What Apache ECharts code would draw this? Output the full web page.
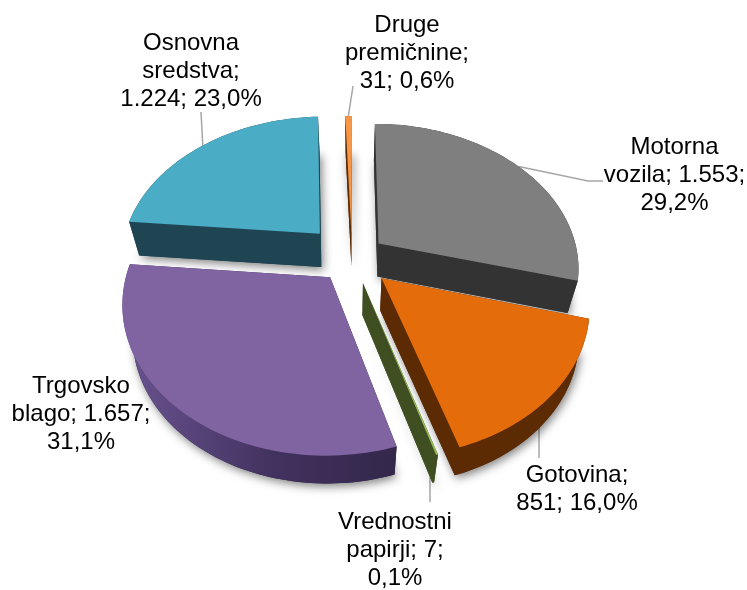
<!DOCTYPE html>
<html>
<head>
<meta charset="utf-8">
<style>html,body{margin:0;padding:0;background:#fff}#c{width:747px;height:590px}</style>
<script src="https://cdn.jsdelivr.net/npm/echarts@6/dist/echarts.min.js"></script>
</head>
<body>
<div id="c"></div>
<script>
// Data (clockwise from 12 o'clock)
const categories = ['Motorna vozila', 'Gotovina', 'Vrednostni papirji', 'Trgovsko blago', 'Osnovna sredstva', 'Druge premičnine'];
const values = [1553, 851, 7, 1657, 1224, 31];
const labelLines = [
  ['Motorna', 'vozila; {v};', '{p}'],
  ['Gotovina;', '{v}; {p}'],
  ['Vrednostni', 'papirji; {v};', '{p}'],
  ['Trgovsko', 'blago; {v};', '{p}'],
  ['Osnovna', 'sredstva;', '{v}; {p}'],
  ['Druge', 'premičnine;', '{v}; {p}']
];
// Styles
const topColors = ['#7f7f7f', '#e46c0a', '#9bbb59', '#8064a2', '#4bacc6', '#f79646'];
const sideColors = ['#333333', '#5c2a03', '#3f4f22', '#33274a', '#1f4553', '#5c2a03'];
const explosions = [0.17, 0.2, 0.18, 0.17, 0.24, 0.18];
const paintOrder = [5, 4, 0, 3, 2, 1];
const labelCenters = [[674.5, 133], [577, 461], [395, 508], [81, 372], [191, 29], [407, 11]];
const leaderEnds = [[[588, 181], [603, 181]], [[539, 425], [539, 458]], [[430, 478], [430, 502]], null, [[201, 112]], [[353, 86]]];

const FONT = '"Liberation Sans", Arial, sans-serif';
const FONT_SIZE = 24, LINE_H = 28;
const CX = 352, CY = 258, RX = 200, RY = 143, PERSP = 0.16;
const DEPTH = 32.7, DEPTH_SLOPE = 0.0248, INWARD = 0.045;
const total = values.reduce((a, b) => a + b, 0);

function project(u, v) {
  const s = 1 / (1 - PERSP * v);
  return [CX + RX * u * s, CY + RY * v * s];
}
function drop(p) {
  return [p[0] - (p[0] - CX) * INWARD, p[1] + DEPTH - DEPTH_SLOPE * (p[1] - CY)];
}
function fmtThousands(n) { return String(n).replace(/\B(?=(\d{3})+(?!\d))/g, '.'); }
function fmtPct(n) { return (n / total * 100).toFixed(1).replace('.', ',') + '%'; }

const chart = echarts.init(document.getElementById('c'), null, { renderer: 'canvas' });

function renderItem(params, api) {
  const i = params.dataIndex;
  const val = api.value(0);
  let before = 0;
  for (let k = 0; k < i; k++) before += values[k];
  const a0 = before / total * Math.PI * 2;
  const a1 = (before + val) / total * Math.PI * 2;
  const mid = (a0 + a1) / 2;
  const ex = Math.sin(mid) * explosions[i], ey = -Math.cos(mid) * explosions[i];
  const at = a => project(ex + Math.sin(a), ey - Math.cos(a));
  const apex = project(ex, ey);
  const rim = [];
  const n = Math.max(2, Math.ceil((a1 - a0) / (Math.PI / 120)));
  for (let k = 0; k <= n; k++) rim.push(at(a0 + (a1 - a0) * k / n));
  const top = [apex].concat(rim);
  const bottom = top.map(drop);
  const rimBottom = rim.map(drop);
  const z = paintOrder.indexOf(i) * 10 + 10;
  const side = sideColors[i];
  const rimFill = i === 3
    ? new echarts.graphic.LinearGradient(0, 0, 1, 0, [
        { offset: 0, color: '#6a5390' }, { offset: 0.55, color: '#42325f' }, { offset: 1, color: '#33274a' }])
    : side;
  const children = [
    { type: 'polygon', z2: z, silent: true, shape: { points: bottom },
      style: { fill: side, shadowBlur: 10, shadowColor: 'rgba(0,0,0,0.5)', shadowOffsetX: 2, shadowOffsetY: 3 } },
    { type: 'polygon', z2: z + 1, silent: true, shape: { points: [apex, rim[0], rimBottom[0], drop(apex)] }, style: { fill: side } },
    { type: 'polygon', z2: z + 1, silent: true, shape: { points: [apex, rim[n], rimBottom[n], drop(apex)] }, style: { fill: side } },
    { type: 'polygon', z2: z + 2, silent: true, shape: { points: rim.concat(rimBottom.slice().reverse()) }, style: { fill: rimFill } },
    { type: 'polygon', z2: z + 3, silent: true, shape: { points: top }, style: { fill: topColors[i] } }
  ];
  // leader line sits under the slices, from the rim at mid-angle
  if (leaderEnds[i]) {
    children.push({
      type: 'polyline', z2: 1, silent: true,
      shape: { points: [at(mid)].concat(leaderEnds[i]) },
      style: { stroke: '#a6a6a6', lineWidth: 1.5, fill: null }
    });
  }
  const text = labelLines[i].map(l => l.replace('{v}', fmtThousands(val)).replace('{p}', fmtPct(val))).join('\n');
  children.push({
    type: 'text', z2: 200, silent: true,
    style: {
      x: labelCenters[i][0], y: labelCenters[i][1], text,
      fill: '#000', fontFamily: FONT, fontSize: FONT_SIZE, lineHeight: LINE_H,
      align: 'center', verticalAlign: 'top'
    }
  });
  return { type: 'group', children };
}

chart.setOption({
  animation: false,
  backgroundColor: '#fff',
  series: [{
    type: 'custom',
    coordinateSystem: 'none',
    renderItem,
    encode: { value: 0 },
    data: categories.map((name, i) => ({ name, value: [values[i]] }))
  }]
});
</script>
</body>
</html>
